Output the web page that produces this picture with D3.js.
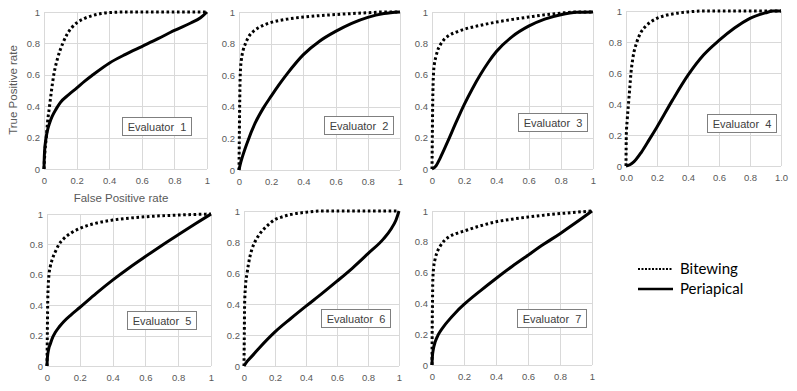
<!DOCTYPE html>
<html><head><meta charset="utf-8">
<script src="https://cdn.jsdelivr.net/npm/d3@7"></script>
<style>
html,body{margin:0;padding:0;background:#fff;}
svg{display:block;}
</style>
</head><body>
<svg id="chart" width="797" height="391"></svg>
<script>
// ---- data ----
const evaluators = ["Evaluator 1","Evaluator 2","Evaluator 3","Evaluator 4","Evaluator 5","Evaluator 6","Evaluator 7"];
const seriesNames = ["Bitewing","Periapical"];
const yTickLabels = ["0","0.2","0.4","0.6","0.8","1"];
const xTickLabels = ["0","0.2","0.4","0.6","0.8","1"];
const xTickLabels4 = ["0.0","0.2","0.4","0.6","0.8","1.0"];
const tickValues = [0,0.2,0.4,0.6,0.8,1];

// [false positive rate, true positive rate]
const bitewing1 = [[0,0],[0.005,0.1],[0.014,0.2],[0.022,0.3],[0.034,0.4],[0.046,0.5],[0.06,0.6],[0.082,0.7],[0.115,0.8],[0.14,0.855],[0.17,0.9],[0.2,0.93],[0.25,0.96],[0.3,0.978],[0.35,0.99],[0.4,0.996],[0.5,1],[1,1]];
const periapical1 = [[0,0],[0.001,0.05],[0.004,0.12],[0.01,0.18],[0.02,0.24],[0.035,0.295],[0.05,0.335],[0.075,0.383],[0.1,0.423],[0.15,0.472],[0.2,0.515],[0.25,0.56],[0.3,0.6],[0.4,0.674],[0.5,0.73],[0.6,0.78],[0.7,0.83],[0.8,0.883],[0.9,0.93],[0.96,0.963],[1,1]];
const bitewing2 = [[0,0],[0.002,0.2],[0.004,0.4],[0.007,0.58],[0.01,0.65],[0.015,0.7],[0.025,0.755],[0.04,0.8],[0.06,0.843],[0.09,0.878],[0.12,0.9],[0.16,0.92],[0.2,0.934],[0.3,0.955],[0.4,0.968],[0.5,0.977],[0.6,0.984],[0.7,0.99],[0.8,0.995],[0.9,1],[1,1]];
const periapical2 = [[0,0],[0.01,0.045],[0.02,0.08],[0.05,0.17],[0.1,0.296],[0.15,0.39],[0.2,0.468],[0.25,0.542],[0.3,0.61],[0.4,0.73],[0.5,0.815],[0.6,0.877],[0.7,0.928],[0.8,0.966],[0.9,0.99],[1,1]];
const bitewing3 = [[0,0],[0.002,0.2],[0.004,0.4],[0.007,0.55],[0.01,0.62],[0.015,0.67],[0.023,0.71],[0.035,0.755],[0.05,0.788],[0.075,0.825],[0.1,0.847],[0.15,0.872],[0.2,0.89],[0.3,0.915],[0.4,0.936],[0.5,0.953],[0.6,0.968],[0.7,0.982],[0.8,0.993],[0.9,1],[1,1]];
const periapical3 = [[0,0],[0.025,0.02],[0.05,0.068],[0.075,0.123],[0.1,0.18],[0.15,0.298],[0.2,0.41],[0.25,0.51],[0.3,0.6],[0.35,0.68],[0.4,0.748],[0.5,0.845],[0.6,0.91],[0.7,0.955],[0.8,0.983],[0.9,0.998],[1,1]];
const bitewing4 = [[0,0],[0.002,0.2],[0.008,0.3],[0.016,0.4],[0.024,0.5],[0.032,0.6],[0.045,0.7],[0.07,0.8],[0.095,0.86],[0.125,0.9],[0.16,0.93],[0.2,0.953],[0.25,0.97],[0.3,0.981],[0.4,0.994],[0.5,1],[1,1]];
const periapical4 = [[0,0],[0.025,0.008],[0.05,0.026],[0.1,0.09],[0.15,0.17],[0.2,0.252],[0.3,0.425],[0.4,0.586],[0.5,0.716],[0.6,0.81],[0.7,0.89],[0.8,0.953],[0.9,0.988],[0.95,1],[1,1]];
const bitewing5 = [[0,0],[0.001,0.1],[0.002,0.2],[0.004,0.4],[0.008,0.54],[0.012,0.6],[0.02,0.655],[0.033,0.705],[0.05,0.75],[0.073,0.8],[0.1,0.835],[0.15,0.877],[0.2,0.905],[0.3,0.94],[0.4,0.96],[0.5,0.973],[0.6,0.982],[0.8,0.993],[1,1]];
const periapical5 = [[0,0],[0.002,0.05],[0.01,0.11],[0.02,0.145],[0.035,0.19],[0.05,0.22],[0.075,0.258],[0.1,0.29],[0.15,0.34],[0.2,0.385],[0.3,0.478],[0.4,0.565],[0.5,0.645],[0.6,0.72],[0.7,0.793],[0.8,0.863],[0.9,0.932],[1,1]];
const bitewing6 = [[0,0],[0.002,0.2],[0.004,0.4],[0.01,0.52],[0.02,0.6],[0.037,0.7],[0.05,0.75],[0.07,0.8],[0.1,0.85],[0.145,0.9],[0.2,0.945],[0.25,0.963],[0.3,0.977],[0.4,0.992],[0.5,1],[1,1]];
const periapical6 = [[0,0],[0.02,0.03],[0.05,0.062],[0.1,0.118],[0.2,0.22],[0.3,0.305],[0.4,0.386],[0.5,0.465],[0.6,0.547],[0.7,0.632],[0.8,0.725],[0.9,0.82],[0.95,0.886],[0.98,0.94],[1,1]];
const bitewing7 = [[0,0],[0.001,0.2],[0.003,0.4],[0.005,0.55],[0.01,0.63],[0.02,0.69],[0.035,0.74],[0.05,0.77],[0.075,0.805],[0.1,0.828],[0.15,0.853],[0.2,0.87],[0.3,0.903],[0.4,0.93],[0.5,0.947],[0.6,0.961],[0.7,0.973],[0.8,0.983],[0.9,0.992],[1,1]];
const periapical7 = [[0,0],[0.002,0.05],[0.008,0.1],[0.02,0.15],[0.035,0.188],[0.05,0.216],[0.075,0.253],[0.1,0.285],[0.15,0.343],[0.2,0.393],[0.3,0.48],[0.4,0.562],[0.5,0.64],[0.6,0.713],[0.7,0.785],[0.8,0.853],[0.9,0.925],[1,1]];

const bitewingData = [bitewing1,bitewing2,bitewing3,bitewing4,bitewing5,bitewing6,bitewing7];
const periapicalData = [periapical1,periapical2,periapical3,periapical4,periapical5,periapical6,periapical7];

// ---- layout (plot areas & label boxes) ----
const layout = [
  {l:44, r:207, t:12, b:169, bx:122, by:117},
  {l:239, r:400, t:12, b:170, bx:324, by:116},
  {l:432, r:593, t:12, b:169, bx:518, by:113},
  {l:626, r:781, t:11, b:166, bx:707, by:114},
  {l:47, r:211, t:214, b:366, bx:127, by:311},
  {l:244, r:399, t:211, b:366, bx:321, by:309},
  {l:432, r:592, t:211, b:365, bx:517, by:309}
];

const svg = d3.select("#chart");
const grey = "#595959";
const tickFont = "Liberation Sans, Arial, sans-serif";

evaluators.forEach((name, i) => {
  const L = layout[i];
  const x = d3.scaleLinear().domain([0,1]).range([L.l, L.r]);
  const y = d3.scaleLinear().domain([0,1]).range([L.b, L.t]);
  const g = svg.append("g");
  const xl = (i === 3) ? xTickLabels4 : xTickLabels;

  // gridlines
  g.selectAll(".vg").data(tickValues).join("line")
    .attr("x1", d => Math.round(x(d))+0.5).attr("x2", d => Math.round(x(d))+0.5)
    .attr("y1", L.t).attr("y2", L.b)
    .attr("stroke", "#d9d9d9").attr("stroke-width", 1);
  g.selectAll(".hg").data(tickValues).join("line")
    .attr("y1", d => Math.round(y(d))+0.5).attr("y2", d => Math.round(y(d))+0.5)
    .attr("x1", L.l).attr("x2", L.r)
    .attr("stroke", "#d9d9d9").attr("stroke-width", 1);

  // axes
  const xAxis = d3.axisBottom(x).tickValues(tickValues).tickSize(0).tickPadding(8)
    .tickFormat((d, k) => xl[k]);
  const yAxis = d3.axisLeft(y).tickValues(tickValues).tickSize(0).tickPadding(4)
    .tickFormat((d, k) => yTickLabels[k]);
  const ax = g.append("g").attr("transform", `translate(0,${L.b})`).call(xAxis);
  const ay = g.append("g").attr("transform", `translate(${L.l},0)`).call(yAxis);
  [ax, ay].forEach(a => {
    a.select(".domain").remove();
    a.selectAll("text").attr("fill", grey).style("font-family", tickFont).style("font-size", "9.5px");
  });

  const line = d3.line().x(d => x(d[0])).y(d => y(d[1])).curve(d3.curveMonotoneX);

  g.append("path").datum(periapicalData[i]).attr("d", line)
    .attr("fill", "none").attr("stroke", "#000").attr("stroke-width", 3);
  g.append("path").datum(bitewingData[i]).attr("d", line)
    .attr("fill", "none").attr("stroke", "#000").attr("stroke-width", 3)
    .attr("stroke-dasharray", "2.6,2.6");

  // label box
  const bw = 69, bh = 18;
  g.append("rect").attr("x", L.bx+0.5).attr("y", L.by+0.5).attr("width", bw).attr("height", bh)
    .attr("fill", "#fff").attr("stroke", "#7f7f7f").attr("stroke-width", 1);
  g.append("text").attr("x", L.bx + bw/2 + 0.5).attr("y", L.by + bh/2 + 4.5)
    .attr("text-anchor", "middle").attr("fill", "#404040")
    .style("font-family", tickFont).style("font-size", "11px").style("white-space", "pre")
    .text(name.replace(" ", "  "));
});

// axis titles
svg.append("text").attr("transform", "translate(17,90) rotate(-90)")
  .attr("text-anchor", "middle").attr("fill", grey)
  .style("font-family", tickFont).style("font-size", "11.5px").text("True Positive rate");
svg.append("text").attr("x", 121).attr("y", 202)
  .attr("text-anchor", "middle").attr("fill", grey)
  .style("font-family", tickFont).style("font-size", "11.5px").text("False Positive rate");

// legend
const legend = svg.append("g");
const legendY = [269, 289];
const legendDash = ["2,1.5", null];
const legendW = [2, 2.5];
seriesNames.forEach((s, k) => {
  legend.append("line").attr("x1", 638).attr("x2", 673).attr("y1", legendY[k]).attr("y2", legendY[k])
    .attr("stroke", "#000").attr("stroke-width", legendW[k])
    .attr("stroke-dasharray", legendDash[k]);
  legend.append("text").attr("x", 680).attr("y", legendY[k] + 5)
    .attr("fill", "#000").style("font-family", "Lato, 'Open Sans', sans-serif").style("font-size", "15px")
    .text(s);
});
</script>
</body></html>
